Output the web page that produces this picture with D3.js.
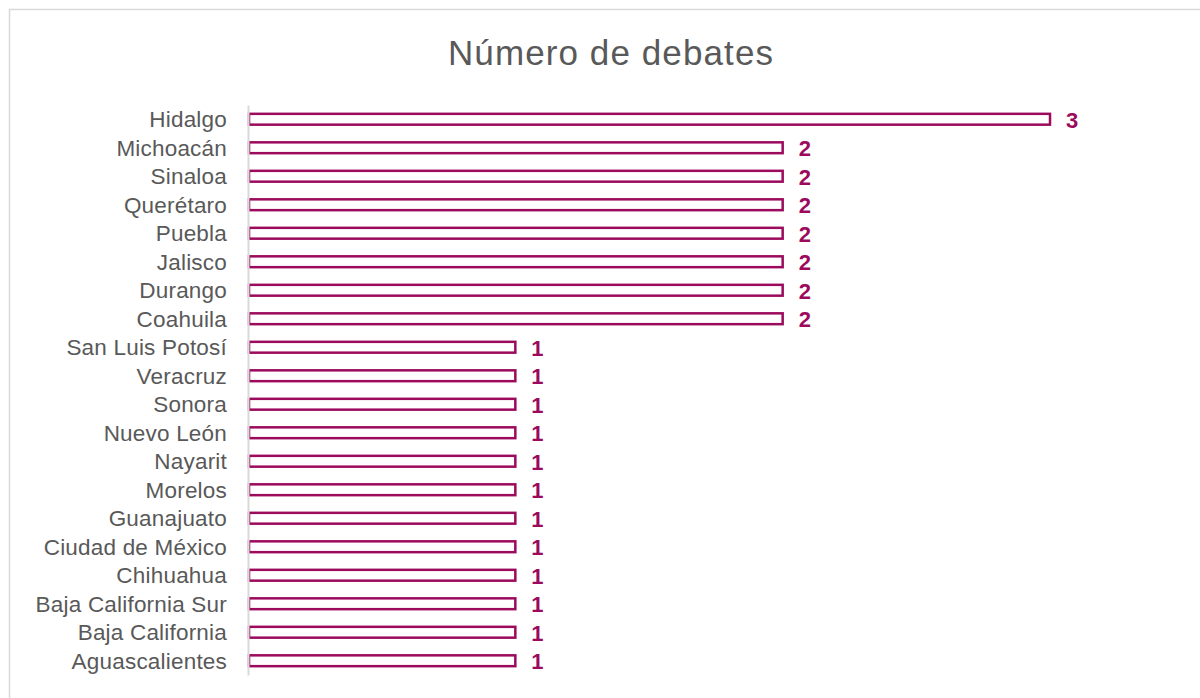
<!DOCTYPE html>
<html>
<head>
<meta charset="utf-8">
<script src="https://cdn.jsdelivr.net/npm/d3@7"></script>
<style>
body{margin:0;background:#fff;}
svg{display:block;}
</style>
</head>
<body>
<div id="chart"></div>
<script>
const categories = ["Hidalgo","Michoacán","Sinaloa","Querétaro","Puebla","Jalisco","Durango","Coahuila","San Luis Potosí","Veracruz","Sonora","Nuevo León","Nayarit","Morelos","Guanajuato","Ciudad de México","Chihuahua","Baja California Sur","Baja California","Aguascalientes"];
const values = [3,2,2,2,2,2,2,2,1,1,1,1,1,1,1,1,1,1,1,1];
const title = "Número de debates";

const W = 1200, H = 698;
const color = "#9b0a5c";
const textColor = "#595959";
const font = "'Liberation Sans', Arial, sans-serif";

const svg = d3.select("#chart").append("svg").attr("width", W).attr("height", H);

svg.append("rect").attr("x", 9.5).attr("y", 9.5).attr("width", W + 10).attr("height", H + 10)
  .attr("fill", "#fff").attr("stroke", "#d9d9d9").attr("stroke-width", 1.5);

svg.append("text").attr("x", 611).attr("y", 65).attr("text-anchor", "middle")
  .attr("font-family", font).attr("font-size", 35).attr("letter-spacing", 1.1)
  .attr("fill", textColor).text(title);

const x = d3.scaleLinear().domain([0, 3]).range([248, 1050]);
const y = d3.scaleBand().domain(categories).range([105, 675]).paddingInner(0.62).paddingOuter(0.31);

const g = svg.append("g");

g.selectAll("rect.bar").data(categories).join("rect").attr("class", "bar")
  .attr("x", x(0) + 1)
  .attr("y", d => y(d))
  .attr("width", (d, i) => x(values[i]) - x(0) - 1)
  .attr("height", y.bandwidth())
  .attr("fill", "#fff").attr("stroke", color).attr("stroke-width", 2.5);

const yAxis = d3.axisLeft(y).tickSize(0).tickPadding(21);
const ax = svg.append("g").attr("transform", `translate(${x(0)},0)`).call(yAxis);
ax.select(".domain").attr("stroke", "#d9d9d9").attr("stroke-width", 2);
ax.selectAll("text").attr("font-family", font).attr("font-size", 22.5).attr("letter-spacing", 0.2)
  .attr("fill", textColor).attr("dy", "0.36em");

g.selectAll("text.val").data(categories).join("text").attr("class", "val")
  .attr("x", (d, i) => x(values[i]) + 16)
  .attr("y", d => y(d) + y.bandwidth() / 2)
  .attr("dy", "0.38em")
  .attr("font-family", font).attr("font-size", 22).attr("font-weight", "bold")
  .attr("fill", color)
  .text((d, i) => values[i]);
</script>
</body>
</html>
